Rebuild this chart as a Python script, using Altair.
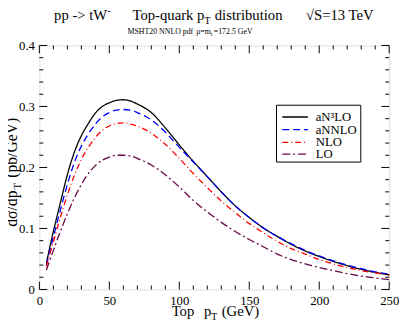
import altair as alt
import pandas as pd

FONT = "Liberation Serif"

# ---------------- data ----------------
pt = [5, 10, 15, 20, 25, 30, 35, 40, 45, 50, 55, 60, 65, 70, 80, 90, 100, 110, 120, 130,
      140, 150, 160, 170, 180, 190, 200, 210, 220, 230, 240, 250]
an3lo = [0.043, 0.095, 0.142, 0.188, 0.225, 0.252, 0.272, 0.289, 0.300, 0.306, 0.310, 0.311, 0.309, 0.304,
         0.290, 0.265, 0.237, 0.210, 0.185, 0.160, 0.137, 0.118, 0.101, 0.087, 0.074, 0.063, 0.054,
         0.046, 0.039, 0.033, 0.028, 0.024]
annlo = [0.040, 0.086, 0.130, 0.172, 0.208, 0.235, 0.255, 0.271, 0.283, 0.290, 0.294, 0.295, 0.294, 0.290,
         0.278, 0.258, 0.233, 0.209, 0.185, 0.160, 0.137, 0.118, 0.101, 0.087, 0.075, 0.064, 0.055,
         0.047, 0.040, 0.034, 0.029, 0.025]
nlo = [0.038, 0.078, 0.118, 0.155, 0.187, 0.213, 0.233, 0.249, 0.261, 0.268, 0.272, 0.273, 0.271, 0.268,
       0.256, 0.238, 0.215, 0.190, 0.167, 0.145, 0.126, 0.108, 0.093, 0.079, 0.067, 0.058, 0.049,
       0.042, 0.036, 0.031, 0.027, 0.023]
lo = [0.032, 0.064, 0.095, 0.124, 0.150, 0.172, 0.190, 0.203, 0.212, 0.217, 0.220, 0.220, 0.219, 0.215,
      0.204, 0.188, 0.168, 0.146, 0.127, 0.110, 0.095, 0.082, 0.070, 0.058, 0.049, 0.042, 0.036,
      0.031, 0.026, 0.022, 0.019, 0.016]

series_names = ["aN³LO", "aNNLO", "NLO", "LO"]
series_values = [an3lo, annlo, nlo, lo]
colors = ["#000000", "#0000ff", "#ff0000", "#670748"]
dashes = [[1, 0], [7, 4], [6, 3, 1, 3], [8, 3, 2, 3]]

x_major = [0, 50, 100, 150, 200, 250]
x_minor = [v for v in range(0, 251, 10) if v % 50 != 0]
y_major = [0.0, 0.1, 0.2, 0.3, 0.4]
y_minor = [round(i * 0.02, 2) for i in range(21) if i % 5 != 0]

# ---------------- layout ----------------
W, H = 357, 249
MAJ, MIN = 8, 4

rows = []
for name, ys in zip(series_names, series_values):
    for x, y in zip(pt, ys):
        rows.append({"series": name, "pt": x, "val": y})
df = pd.DataFrame(rows)

x_scale = alt.Scale(domain=[0, 250], nice=False, zero=False)
y_scale = alt.Scale(domain=[0, 0.4], nice=False)

lines = alt.Chart(df).mark_line(strokeWidth=1.3, interpolate="monotone").encode(
    x=alt.X("pt:Q", scale=x_scale, title=None,
            axis=alt.Axis(values=x_major, ticks=False, domain=False, grid=False,
                          labelFont=FONT, labelFontSize=13, labelColor="black",
                          labelPadding=5, labelFlush=False, title=None)),
    y=alt.Y("val:Q", scale=y_scale, title=None,
            axis=alt.Axis(values=y_major, ticks=False, domain=False, grid=False,
                          labelFont=FONT, labelFontSize=13, labelColor="black",
                          labelPadding=5, labelFlush=False, title=None,
                          labelExpr="datum.value == 0 ? '0' : format(datum.value, '.1f')")),
    color=alt.Color("series:N", scale=alt.Scale(domain=series_names, range=colors), legend=None),
    strokeDash=alt.StrokeDash("series:N", scale=alt.Scale(domain=series_names, range=dashes), legend=None),
)


def xticks(vals, length):
    d = pd.DataFrame({"pt": vals})
    b = alt.Chart(d).mark_rule(color="black", strokeWidth=1).encode(
        x=alt.X("pt:Q", scale=x_scale), y=alt.value(H), y2=alt.value(H - length))
    t = alt.Chart(d).mark_rule(color="black", strokeWidth=1).encode(
        x=alt.X("pt:Q", scale=x_scale), y=alt.value(0), y2=alt.value(length))
    return [b, t]


def yticks(vals, length):
    d = pd.DataFrame({"val": vals})
    l = alt.Chart(d).mark_rule(color="black", strokeWidth=1).encode(
        y=alt.Y("val:Q", scale=y_scale), x=alt.value(0), x2=alt.value(length))
    r = alt.Chart(d).mark_rule(color="black", strokeWidth=1).encode(
        y=alt.Y("val:Q", scale=y_scale), x=alt.value(W), x2=alt.value(W - length))
    return [l, r]


def txt(text, x, y, size, angle=0, align="left", baseline="alphabetic", color="black"):
    return alt.Chart(pd.DataFrame({"t": [text]})).mark_text(
        font=FONT, fontSize=size, angle=angle, align=align, baseline=baseline, color=color
    ).encode(text="t:N", x=alt.value(x), y=alt.value(y))


OX, OY = 40, 43  # page position of plot origin


def P(xp, yp):
    return xp - OX, yp - OY


texts = []
# title line
texts.append(txt("pp -> tW", *P(55, 17), 15))
texts.append(txt("-", *P(109.5, 11), 10))
texts.append(txt("Top-quark p", *P(135, 17), 15))
texts.append(txt("T", *P(208.5, 21), 10))
texts.append(txt("distribution", *P(219, 17), 15))
texts.append(txt("√S=13 TeV", *P(312, 17), 15))
# subtitle
texts.append(txt("MSHT20 NNLO pdf", *P(130, 31), 8))
texts.append(txt("μ=m", *P(200, 31), 8))
texts.append(txt("t", *P(215, 33), 5.5))
texts.append(txt("=172.5 GeV", *P(218, 31), 8))
# x title
texts.append(txt("Top", *P(175, 319), 15))
texts.append(txt("p", *P(208, 319), 15))
texts.append(txt("T", *P(215.5, 323), 10))
texts.append(txt("(GeV)", *P(226, 319), 15))
# y title (rotated)
texts.append(txt("dσ/dp", *P(17, 228), 16, angle=270))
texts.append(txt("T", *P(21, 190), 11, angle=270))
texts.append(txt("(pb/GeV)", *P(17, 178), 16, angle=270))

# legend
LX0, LY0, LX1, LY1 = 282, 104, 368, 162
legend_box = alt.Chart(pd.DataFrame({"a": [0]})).mark_rect(
    fill="white", stroke="black", strokeWidth=1
).encode(x=alt.value(LX0 - OX), x2=alt.value(LX1 - OX), y=alt.value(LY0 - OY), y2=alt.value(LY1 - OY))
legend_layers = [legend_box]
row_y = [116, 129, 142, 154]
for name, c, d, ry in zip(series_names, colors, dashes, row_y):
    legend_layers.append(
        alt.Chart(pd.DataFrame({"a": [0]})).mark_rule(color=c, strokeDash=d, strokeWidth=1.3).encode(
            x=alt.value(288 - OX), x2=alt.value(314 - OX), y=alt.value(ry - OY))
    )
    legend_layers.append(txt(name, 322 - OX, ry - OY, 13, baseline="middle"))

layers = [lines]
layers += xticks(x_major, MAJ) + xticks(x_minor, MIN)
layers += yticks(y_major, MAJ) + yticks(y_minor, MIN)
layers += texts + legend_layers

chart = alt.layer(*layers).properties(
    width=W, height=H, autosize="none",
    padding={"left": 32, "top": 35, "right": 10, "bottom": 31},
).configure_view(stroke="black", strokeWidth=1).configure(background="white")

chart.save("out.html", embed_options={"renderer": "svg", "actions": False})
